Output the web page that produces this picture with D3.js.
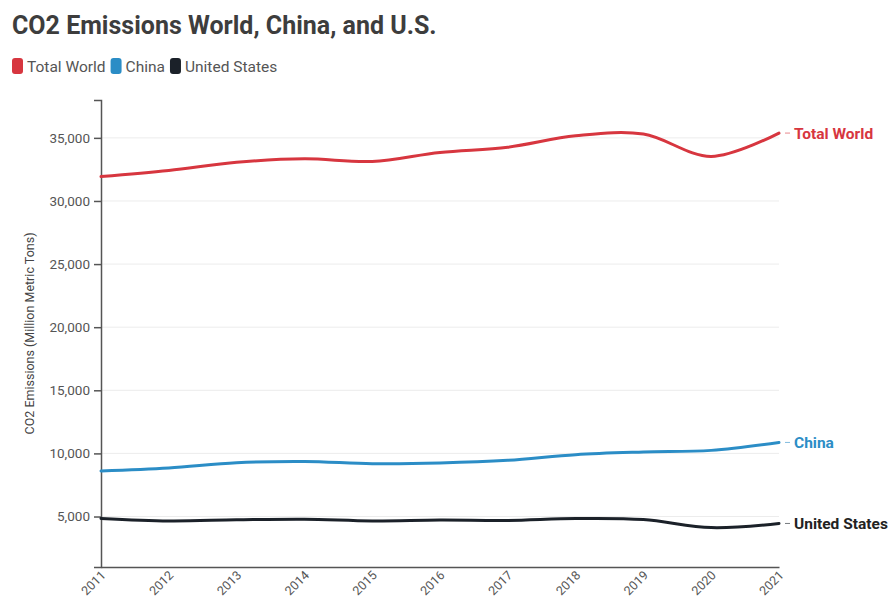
<!DOCTYPE html>
<html>
<head>
<meta charset="utf-8">
<script src="https://cdn.jsdelivr.net/npm/d3@7"></script>
<style>
  body { margin: 0; background: #fff; font-family: Roboto, 'Open Sans', sans-serif; }
</style>
</head>
<body>
<div id="chart"></div>
<script>
// Data (million metric tons)
const years = [2011, 2012, 2013, 2014, 2015, 2016, 2017, 2018, 2019, 2020, 2021];
const totalWorld = [31930, 32410, 33060, 33340, 33130, 33840, 34260, 35160, 35300, 33530, 35380];
const china = [8610, 8850, 9260, 9360, 9190, 9240, 9450, 9900, 10110, 10240, 10870];
const unitedStates = [4850, 4650, 4740, 4790, 4650, 4720, 4690, 4840, 4760, 4120, 4450];
const yTicks = [5000, 10000, 15000, 20000, 25000, 30000, 35000];

const seriesNames = ['Total World', 'China', 'United States'];
const seriesColors = ['#d7363f', '#2b8dc6', '#1b2129'];
const labelColors = ['#d7363f', '#2b8dc6', '#222'];

const series = [totalWorld, china, unitedStates].map((vals, i) => ({
    name: seriesNames[i],
    color: seriesColors[i],
    labelColor: labelColors[i],
    values: vals.map((v, j) => ({ year: years[j], value: v }))
}));

const width = 890, height = 598;
const margin = { top: 100, right: 111, bottom: 31, left: 101 };
const innerW = width - margin.left - margin.right;
const innerH = height - margin.top - margin.bottom;

const svg = d3.select('#chart').append('svg')
    .attr('width', width)
    .attr('height', height)
    .style('display', 'block');

// Title
svg.append('text')
    .attr('x', 12).attr('y', 34)
    .attr('font-size', '25px')
    .attr('font-weight', '700')
    .attr('fill', '#3d3d3d')
    .text('CO2 Emissions World, China, and U.S.');

// Legend
const legend = svg.append('g').attr('transform', 'translate(12,58)');
let lx = 0;
series.forEach(s => {
    const item = legend.append('g').attr('transform', `translate(${lx},0)`);
    item.append('rect')
        .attr('width', 11).attr('height', 16)
        .attr('rx', 3)
        .attr('fill', s.color);
    const t = item.append('text')
        .attr('x', 15).attr('y', 13.5)
        .attr('font-size', '15.5px')
        .attr('fill', '#555')
        .text(s.name);
    lx += 15 + t.node().getComputedTextLength() + 5;
});

const chart = svg.append('g')
    .attr('transform', `translate(${margin.left},${margin.top})`);

const x = d3.scaleLinear().domain([2011, 2021]).range([0, innerW]);
const y = d3.scaleLinear().domain([1000, 38000]).range([innerH, 0]);

// Gridlines
chart.append('g')
    .selectAll('line')
    .data(yTicks)
    .join('line')
    .attr('x1', 0).attr('x2', innerW)
    .attr('y1', d => y(d)).attr('y2', d => y(d))
    .attr('stroke', '#ececec')
    .attr('stroke-width', 1);

// Y axis
chart.append('g')
    .call(d3.axisLeft(y).tickValues(yTicks).tickFormat(d3.format(',')).tickSize(7).tickPadding(4))
    .call(ax => {
        ax.select('.domain').attr('stroke', '#555').attr('stroke-width', 1.5);
        ax.selectAll('.tick line').attr('stroke', '#555').attr('stroke-width', 1.5);
        ax.selectAll('text').attr('fill', '#555').attr('font-size', '13.5px')
            .attr('font-family', 'Roboto, sans-serif');
    });

// X axis (rotated year labels)
chart.append('g')
    .attr('transform', `translate(0,${innerH})`)
    .call(d3.axisBottom(x).tickValues(years).tickFormat(d3.format('d')).tickSize(0))
    .call(ax => {
        ax.select('.domain').attr('stroke', '#555').attr('stroke-width', 1.5);
        ax.selectAll('text')
            .attr('fill', '#555').attr('font-size', '12.5px')
            .attr('font-family', 'Roboto, sans-serif')
            .attr('text-anchor', 'end')
            .attr('dy', null)
            .attr('y', 0)
            .attr('transform', 'translate(5,9) rotate(-45)');
    });

// Y axis title
svg.append('text')
    .attr('transform', `translate(34,${margin.top + innerH / 2}) rotate(-90)`)
    .attr('text-anchor', 'middle')
    .attr('font-size', '12.5px')
    .attr('fill', '#444')
    .text('CO2 Emissions (Million Metric Tons)');

// Lines
const line = d3.line()
    .x(d => x(d.year))
    .y(d => y(d.value))
    .curve(d3.curveCardinal);

chart.selectAll('.series-line')
    .data(series)
    .join('path')
    .attr('class', 'series-line')
    .attr('fill', 'none')
    .attr('stroke', d => d.color)
    .attr('stroke-width', 3)
    .attr('stroke-linejoin', 'round')
    .attr('stroke-linecap', 'round')
    .attr('d', d => line(d.values));

// End labels
const ends = chart.selectAll('.end-label')
    .data(series)
    .join('g')
    .attr('class', 'end-label')
    .attr('transform', d => `translate(${innerW},${y(d.values[d.values.length - 1].value)})`);

ends.append('line')
    .attr('x1', 6).attr('x2', 11)
    .attr('y1', 0).attr('y2', 0)
    .attr('stroke', d => d.color)
    .attr('stroke-opacity', 0.6)
    .attr('stroke-width', 1);

ends.append('text')
    .attr('x', 15)
    .attr('dy', '0.35em')
    .attr('font-size', '15.5px')
    .attr('font-weight', '700')
    .attr('fill', d => d.labelColor)
    .text(d => d.name);
</script>
</body>
</html>
